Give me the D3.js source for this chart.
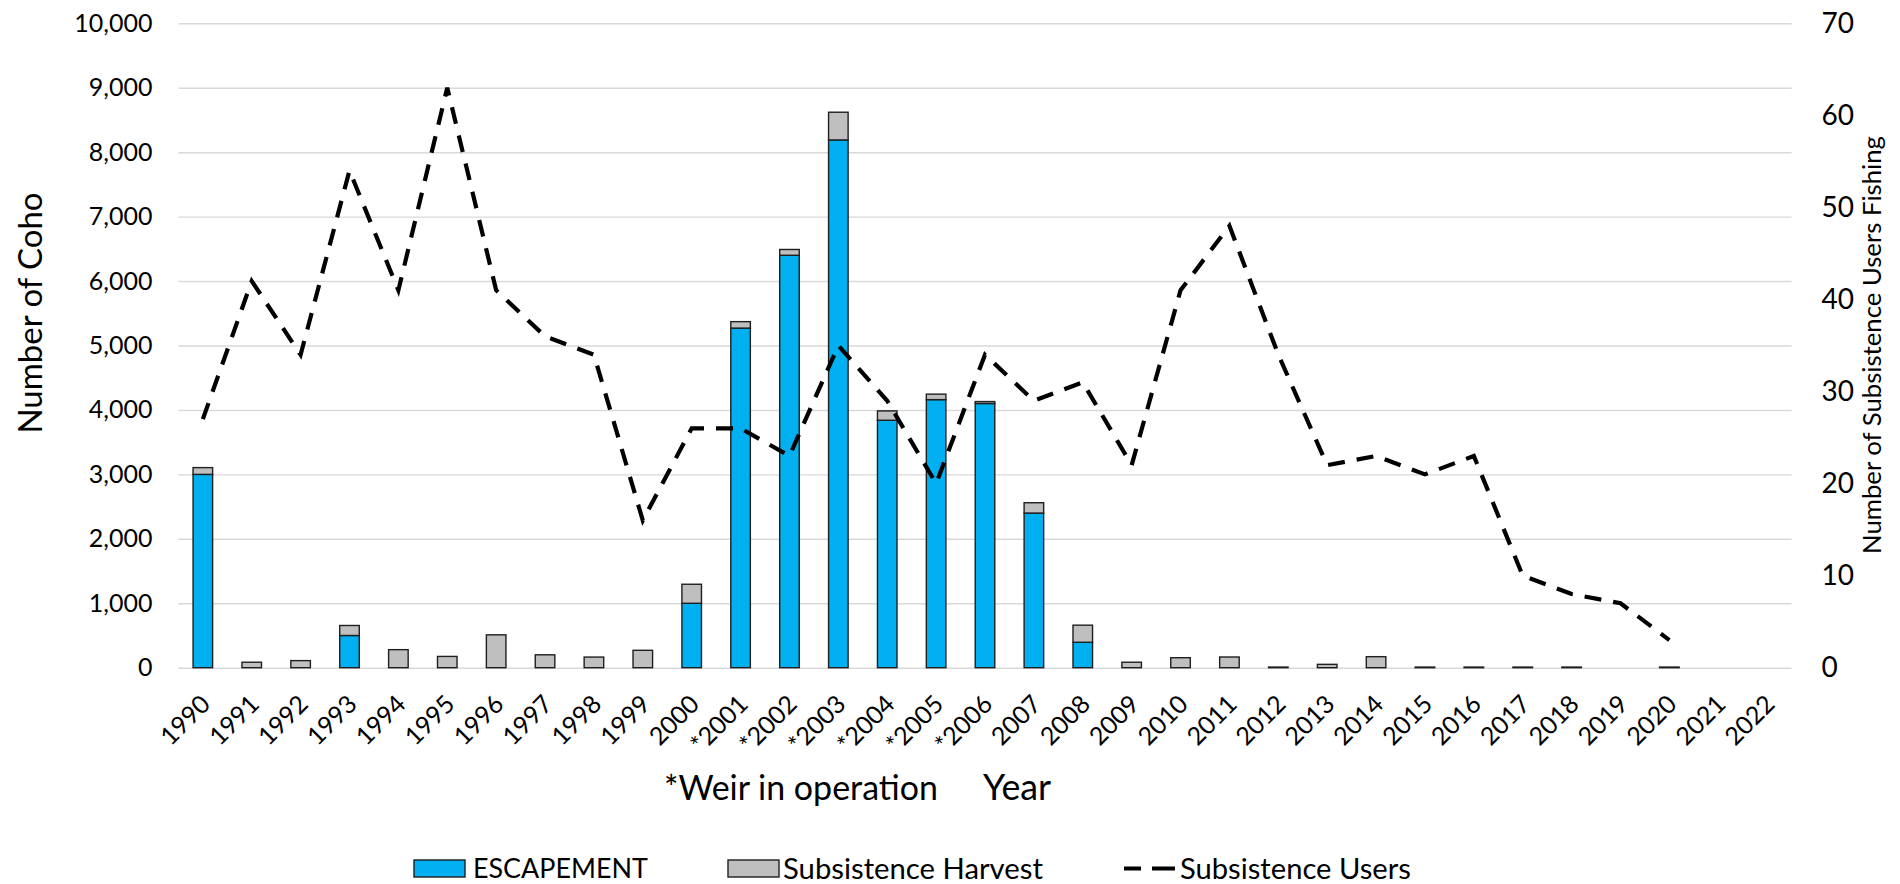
<!DOCTYPE html>
<html><head><meta charset="utf-8">
<script src="https://cdn.jsdelivr.net/npm/d3@7"></script>
<style>
body{margin:0;background:#fff;}
svg{display:block;font-family:Lato,"Liberation Sans",sans-serif;}
</style>
</head><body>
<svg id="chart" width="1900" height="884"></svg>
<script>
// ---------------- data ----------------
const years = ["1990","1991","1992","1993","1994","1995","1996","1997","1998","1999","2000","2001","2002","2003","2004","2005","2006","2007","2008","2009","2010","2011","2012","2013","2014","2015","2016","2017","2018","2019","2020","2021","2022"];
const xLabels = ["1990","1991","1992","1993","1994","1995","1996","1997","1998","1999","2000","*2001","*2002","*2003","*2004","*2005","*2006","2007","2008","2009","2010","2011","2012","2013","2014","2015","2016","2017","2018","2019","2020","2021","2022"];
const escapement = [3000,0,0,500,0,0,0,0,0,0,1000,5270,6400,8190,3840,4160,4100,2400,395,0,0,0,0,0,0,0,0,0,0,null,0,null,null];
const harvest    = [105,85,110,155,280,175,510,200,165,270,295,100,90,430,145,85,30,160,265,85,155,166,10,52,171,10,10,10,10,null,10,null,null];
const users      = [27,42,34,54,41,63,41,36,34,16,26,26,23,35,29,20,34,29,31,22,41,48,34,22,23,21,23,10,8,7,3,null,null];
const leftTicks  = [0,1000,2000,3000,4000,5000,6000,7000,8000,9000,10000];
const rightTicks = [0,10,20,30,40,50,60,70];
const seriesNames = ["ESCAPEMENT","Subsistence Harvest","Subsistence Users"];
const colors = {esc:"#00B0F0", harv:"#BFBFBF", line:"#000000", grid:"#D9D9D9", edge:"#1f1f1f"};

// ---------------- layout ----------------
const plot = {left:178.4, right:1791.6, top:23.3, bottom:667.7};
const svg = d3.select("#chart");

const x = d3.scaleBand().domain(years).range([plot.left, plot.right]).paddingInner(0.6).paddingOuter(0.3);
const cx = d => x(d) + x.bandwidth()/2;
const yL = d3.scaleLinear().domain([0,10000]).range([plot.bottom, plot.top]);
const yR = d3.scaleLinear().domain([0,70]).range([plot.bottom, plot.top]);

function fitWidth(sel, target){
  const n = sel.node();
  const w = n.getComputedTextLength();
  const fs = parseFloat(sel.attr("font-size"));
  sel.attr("font-size", fs*target/w);
  return fs*target/w;
}

// gridlines + left axis
const gl = svg.append("g").attr("transform",`translate(${plot.left},0)`)
  .call(d3.axisLeft(yL).tickValues(leftTicks).tickSize(-(plot.right-plot.left)).tickPadding(26).tickFormat(d3.format(",")));
gl.select(".domain").remove();
gl.selectAll(".tick line").attr("stroke", colors.grid).attr("stroke-width",1.4);
gl.selectAll(".tick text").attr("font-size",25).attr("fill","#000").attr("font-family","Lato");

// right axis
const gr = svg.append("g").attr("transform",`translate(${plot.right},0)`)
  .call(d3.axisRight(yR).tickValues(rightTicks).tickSize(0).tickPadding(30));
gr.select(".domain").remove();
gr.selectAll(".tick text").attr("font-size",28).attr("fill","#000").attr("font-family","Lato");

// bottom axis
const gb = svg.append("g").attr("transform",`translate(0,${plot.bottom})`)
  .call(d3.axisBottom(x).tickSize(0).tickFormat((d,i)=>xLabels[i]));
gb.select(".domain").remove();
gb.selectAll(".tick text")
  .attr("font-size",25).attr("fill","#000").attr("font-family","Lato")
  .attr("text-anchor","end").attr("x",9).attr("y",38).attr("dy",0)
  .attr("transform","rotate(-45,9,38)");

// bars
const rows = years.map((yr,i)=>({yr, e:escapement[i], h:harvest[i]}));
const bars = svg.append("g");
bars.selectAll("rect.esc").data(rows.filter(r=>r.e!==null && r.e>0)).join("rect")
  .attr("class","esc")
  .attr("x",r=>x(r.yr)).attr("width",x.bandwidth())
  .attr("y",r=>yL(r.e)).attr("height",r=>yL(0)-yL(r.e))
  .attr("fill",colors.esc).attr("stroke",colors.edge).attr("stroke-width",1.4);
bars.selectAll("rect.harv").data(rows.filter(r=>r.h!==null)).join("rect")
  .attr("class","harv")
  .attr("x",r=>x(r.yr)).attr("width",x.bandwidth())
  .attr("y",r=>yL((r.e||0)+r.h)).attr("height",r=>yL(r.e||0)-yL((r.e||0)+r.h))
  .attr("fill",colors.harv).attr("stroke",colors.edge).attr("stroke-width",1.4);

// line
const lineGen = d3.line().defined(d=>d.v!==null).x(d=>cx(d.yr)).y(d=>yR(d.v));
svg.append("path").datum(years.map((yr,i)=>({yr, v:users[i]})))
  .attr("d",lineGen).attr("fill","none").attr("stroke",colors.line)
  .attr("stroke-width",4.2).attr("stroke-dasharray","17,12");

// axis titles
const tL = svg.append("text").attr("font-size",32).attr("text-anchor","middle")
  .attr("transform","translate(42,313) rotate(-90)").text("Number of Coho");
fitWidth(tL, 241);
const tR = svg.append("text").attr("font-size",24).attr("text-anchor","middle")
  .attr("transform","translate(1881,345) rotate(-90)").text("Number of Subsistence Users Fishing");
fitWidth(tR, 418);
const tW = svg.append("text").attr("font-size",30).attr("x",664).attr("y",799.5).text("*Weir in operation");
fitWidth(tW, 274);
const tY = svg.append("text").attr("font-size",30).attr("x",983).attr("y",799.5).text("Year");
fitWidth(tY, 68);

// legend
const lg = svg.append("g");
const legY = 868.5;
lg.append("rect").attr("x",414).attr("y",860).attr("width",51).attr("height",17)
  .attr("fill",colors.esc).attr("stroke",colors.edge).attr("stroke-width",1.4);
lg.append("rect").attr("x",728).attr("y",860).attr("width",51).attr("height",17)
  .attr("fill",colors.harv).attr("stroke",colors.edge).attr("stroke-width",1.4);
lg.append("line").attr("x1",1124).attr("x2",1175).attr("y1",legY).attr("y2",legY)
  .attr("stroke",colors.line).attr("stroke-width",4).attr("stroke-dasharray","17,11,23");
const legX = [473, 783, 1180];
const legW = [175, 260, 231];
seriesNames.forEach((nm,i)=>{
  const t = lg.append("text").attr("font-size",28).attr("x",legX[i]).text(nm);
  const fs = fitWidth(t, legW[i]);
  t.attr("y", legY + 0.36*fs);
});
</script>
</body></html>
